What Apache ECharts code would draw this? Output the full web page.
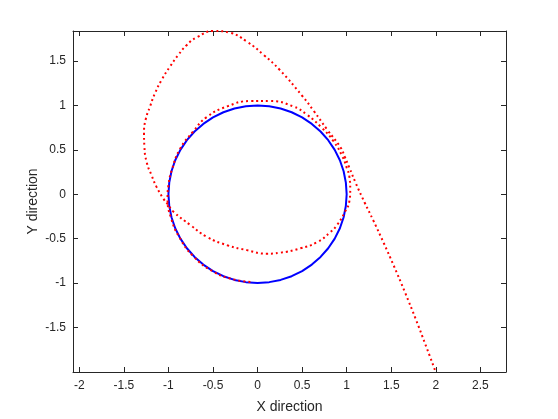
<!DOCTYPE html>
<html>
<head>
<meta charset="utf-8">
<script src="https://cdn.jsdelivr.net/npm/echarts@6/dist/echarts.min.js"></script>
<style>
  html, body { margin: 0; padding: 0; background: #fff; }
  #chart { width: 558px; height: 419px; }
</style>
</head>
<body>
<div id="chart"></div>
<script>
// tick positions
const xTicks = [-2, -1.5, -1, -0.5, 0, 0.5, 1, 1.5, 2, 2.5]
const yTicks = [-1.5, -1, -0.5, 0, 0.5, 1, 1.5]

// blue: the reference circle
const circlePts = [
  [1.000, 0.000], [0.991, 0.131], [0.966, 0.259], [0.924, 0.383], [0.866, 0.500], [0.793, 0.609],
  [0.707, 0.707], [0.609, 0.793], [0.500, 0.866], [0.383, 0.924], [0.259, 0.966], [0.131, 0.991],
  [0.000, 1.000], [-0.131, 0.991], [-0.259, 0.966], [-0.383, 0.924], [-0.500, 0.866], [-0.609, 0.793],
  [-0.707, 0.707], [-0.793, 0.609], [-0.866, 0.500], [-0.924, 0.383], [-0.966, 0.259], [-0.991, 0.131],
  [-1.000, 0.000], [-0.991, -0.131], [-0.966, -0.259], [-0.924, -0.383], [-0.866, -0.500], [-0.793, -0.609],
  [-0.707, -0.707], [-0.609, -0.793], [-0.500, -0.866], [-0.383, -0.924], [-0.259, -0.966], [-0.131, -0.991],
  [0.000, -1.000], [0.131, -0.991], [0.259, -0.966], [0.383, -0.924], [0.500, -0.866], [0.609, -0.793],
  [0.707, -0.707], [0.793, -0.609], [0.866, -0.500], [0.924, -0.383], [0.966, -0.259], [0.991, -0.131],
  [1.000, 0.000]
]

// red: trajectory, from the lower right going in
const orbitPts = [
  [1.99, -1.98], [1.886, -1.70], [1.772, -1.40], [1.652, -1.10], [1.526, -0.80], [1.416, -0.55],
  [1.301, -0.30], [1.20, -0.09], [1.10, 0.13], [1.03, 0.30], [0.98, 0.42], [0.93, 0.53],
  [0.78, 0.73], [0.63, 0.94], [0.50, 1.11], [0.25, 1.40], [0.07, 1.57], [-0.12, 1.72],
  [-0.31, 1.82], [-0.49, 1.84], [-0.68, 1.77], [-0.796, 1.68], [-0.889, 1.57], [-0.982, 1.44],
  [-1.076, 1.29], [-1.15, 1.14], [-1.206, 0.99], [-1.256, 0.84], [-1.274, 0.69], [-1.27, 0.54],
  [-1.244, 0.36], [-1.188, 0.21], [-1.132, 0.08], [-1.057, -0.05], [-1.02, -0.097],
  [-0.94, -0.20], [-0.75, -0.35], [-0.57, -0.48], [-0.34, -0.575], [-0.12, -0.63],
  [0.10, -0.67], [0.25, -0.66], [0.48, -0.61], [0.67, -0.54], [0.815, -0.43], [0.89, -0.35],
  [0.98, -0.20], [1.03, -0.08], [1.04, 0.05], [1.03, 0.20], [1.00, 0.30], [0.95, 0.43],
  [0.85, 0.60], [0.72, 0.75], [0.55, 0.90], [0.40, 0.99], [0.14, 1.05], [-0.08, 1.05],
  [-0.34, 0.99], [-0.57, 0.87], [-0.72, 0.71], [-0.87, 0.51], [-0.96, 0.28], [-1.00, 0.10],
  [-1.01, -0.05], [-0.97, -0.27], [-0.88, -0.48], [-0.72, -0.70], [-0.50, -0.87], [-0.27, -0.96],
  [-0.05, -0.99]
]

const xMin = -2.071, xMax = 2.788
const yMin = -2.004, yMax = 1.84
const axisColor = '#262626'
const fontFam = 'Liberation Sans, Arial, sans-serif'

let myecharts = echarts.init(document.getElementById('chart'))

function xAx(pos, labels){
  return {
    type: 'value', position: pos, min: xMin, max: xMax,
    name: labels ? 'X direction' : '', nameLocation: 'middle', nameGap: 28, nameMoveOverlap: false,
    nameTextStyle: { color: axisColor, fontSize: 14, fontFamily: fontFam },
    axisLine: { show: true, onZero: false, lineStyle: { color: axisColor, width: 1 } },
    axisTick: { show: true, inside: true, length: 5, customValues: xTicks, lineStyle: { color: axisColor } },
    axisLabel: { show: labels, margin: 8, customValues: xTicks, color: axisColor, fontSize: 12, fontFamily: fontFam },
    splitLine: { show: false }
  }
}
function yAx(pos, labels){
  return {
    type: 'value', position: pos, min: yMin, max: yMax,
    name: labels ? 'Y direction' : '', nameLocation: 'middle', nameGap: 33, nameMoveOverlap: false,
    nameTextStyle: { color: axisColor, fontSize: 14, fontFamily: fontFam },
    axisLine: { show: true, onZero: false, lineStyle: { color: axisColor, width: 1 } },
    axisTick: { show: true, inside: true, length: 5, customValues: yTicks, lineStyle: { color: axisColor } },
    axisLabel: { show: labels, margin: 7, customValues: yTicks, color: axisColor, fontSize: 12, fontFamily: fontFam },
    splitLine: { show: false }
  }
}

let option = {
  backgroundColor: '#fff',
  animation: false,
  grid: { left: 73, top: 31, width: 433, height: 343, containLabel: false },
  xAxis: [xAx('bottom', true), xAx('top', false)],
  yAxis: [yAx('left', true), yAx('right', false)],
  series: [
    {
      name: 'circle',
      type: 'line',
      data: circlePts,
      showSymbol: false,
      lineStyle: { color: '#0000ff', width: 2 }
    },
    {
      name: 'orbit',
      type: 'line',
      data: orbitPts,
      smooth: 0.5,
      showSymbol: false,
      lineStyle: { color: '#ff0000', width: 2, type: [2, 3], cap: 'butt' }
    }
  ]
}

myecharts.setOption(option)
</script>
</body>
</html>
